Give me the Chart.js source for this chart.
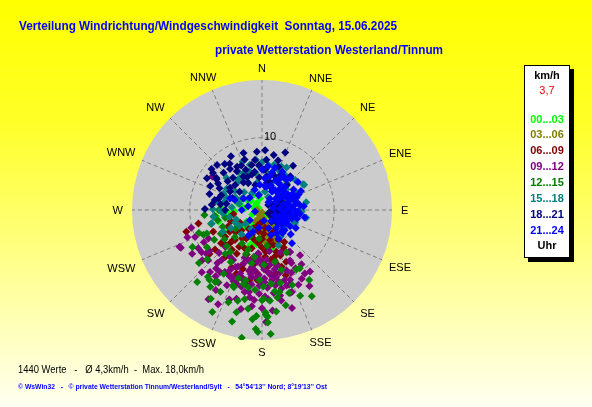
<!DOCTYPE html>
<html>
<head>
<meta charset="utf-8">
<script src="https://cdn.jsdelivr.net/npm/chart.js@4.4.1/dist/chart.umd.min.js"></script>
<style>
html, body { margin: 0; padding: 0; overflow: hidden; background: #ffffff; }
#wrap { width: 592px; height: 407px; }
</style>
</head>
<body>
<div id="wrap"><canvas id="canvasWind" width="592" height="407"></canvas></div>
<script>
"use strict";

// Wind readings per 3-hour block: [direction in degrees, speed in km/h]
var h00_03 = [[286,3.2],[260,5.0],[257,4.8],[282,1.0],[290,1.2],[170,5.0],[166,5.5],[233,2.7],[226,3.6],[207,4.2],[150,0.8],[275,2.4],[302,2.2],[322,1.2],[197,4.8],[225,3.0],[260,5.2],[174,3.7],[164,3.4],[262,6.4],[285,3.5],[189,4.8],[164,5.4],[200,2.0],[245,1.5],[215,2.2],[185,1.8],[240,4.0],[300,0.6],[176,2.6],[130,1.3],[268,3.8],[192,4.7],[205,3.2],
	[250,3.8],[265,4.6],[280,2.8],[295,3.3],[310,2.0],[330,2.4],[215,4.6],[230,4.4],[180,4.2],[160,4.2],[170,3.0],[255,6.2],[272,5.5],[240,5.6],[200,5.4],[140,2.4],[110,1.0],[350,1.6]];
var h03_06 = [[181,1.9],[172,3.0],[161,3.9],[158,4.8],[203,1.3],[171,1.2],[159,2.5],[168,3.3],[187,2.6],[225,0.7],[180,0.3],[270,0.7],[203,0.8],[175,2.2],[165,4.3],[155,4.1],[190,1.5],[162,3.5],[178,4.0],[150,3.0],[195,2.0],[170,1.7],[165,2.4],[185,3.2],[190,4.5],
	[163,4.5],[158,3.2],[152,4.4],[168,5.0],[175,3.6],[183,2.2],[178,1.0],[200,2.6],[210,1.8],[148,2.4],[160,1.8],[172,4.6]];
var h06_09 = [[254,10.9],[258,9.0],[230,9.5],[230,8.5],[224,6.4],[224,5.8],[217,6.9],[210,7.0],[202,9.5],[199,6.5],[188,7.5],[176,6.5],[171,5.6],[162,5.1],[165,6.7],[165,7.7],[161,8.3],[160,9.6],[172,9.1],[184,9.7],[222,5.6],[225,4.0],[209,4.5],[202,3.7],[186,4.6],[176,3.3],[165,4.3],[151,4.8],[244,5.2],[234,6.3],[231,7.3],[184,8.8],[166,7.2],[161,6.1],[155,7.9],[195,5.5],[180,5.2],[170,7.0],[190,3.0],[215,3.2],[240,3.5],[200,8.2],[155,6.5],[175,8.0],[195,2.2],[170,2.5],
	[185,6.2],[192,7.0],[198,8.6],[205,5.8],[212,6.0],[218,8.2],[228,7.0],[236,5.4],[246,7.4],[250,4.6],[262,4.0],[175,5.8],[168,5.0],[158,6.8],[150,6.0],[145,5.4],[178,7.4],[190,9.8],[208,9.0],[168,9.0],[180,4.0],[195,4.2],[205,2.8],[160,3.6],[150,3.4],[215,4.8],[230,4.8],[186,1.8]];
var h09_12 = [[246,12.5],[256,10.1],[248,10.0],[239,10.3],[235,10.2],[232,9.8],[232,9.2],[241,9.2],[227,10.2],[218,10.3],[224,12.0],[211,10.0],[211,14.4],[211,11.7],[204,10.2],[208,10.0],[199,10.8],[195,11.0],[193,10.4],[189,11.5],[188,10.4],[180,7.6],[187,8.4],[183,9.0],[182,6.9],[175,6.9],[172,7.7],[172,8.9],[168,9.5],[167,10.2],[166,11.2],[161,12.1],[162,10.2],[160,11.0],[144,9.3],[150,11.0],[150,9.3],[146,7.0],[151,8.0],[178,15.5],[185,12.5],[192,11.6],[178,9.5],[172,9.8],[219,8.9],[208,9.4],[203,8.5],[199,7.8],[195,7.2],[189,9.4],[168,12.1],[168,12.8],[205,8.7],[199,9.3],[245,12.4],[205,14.4],[146,10.6],[160,12.1],[147,6.9],[151,8.4],[304,8.3],[185,6.0],[178,8.2],[190,8.0],[170,5.8],[182,10.5],[196,12.8],[158,9.0],
	[175,8.6],[180,10.2],[185,9.4],[190,9.0],[195,10.0],[200,9.8],[205,11.5],[210,12.8],[215,11.2],[220,9.6],[225,8.4],[230,10.8],[238,11.4],[250,11.0],[242,8.4],[215,7.8],[225,7.2],[210,8.0],[200,7.0],[190,6.6],[176,10.8],[170,10.6],[164,9.0],[158,10.4],[154,11.5],[148,12.4],[142,10.8],[156,6.4],[165,8.0],[172,11.6],[178,12.0],[186,13.4],[192,14.0],[200,13.2],[180,13.6],[174,14.0],[163,14.2],[140,8.2],
	[185,7.2],[192,8.6],[178,10.0],[172,9.2],[168,8.4],[196,9.8],[202,10.6],[182,11.6],[176,12.4],[188,12.2],[206,10.2],[214,10.4],[220,11.2],[162,11.0],[155,9.6]];
var h12_15 = [[189,17.9],[183,16.5],[178,14.5],[177,14.8],[178,14.2],[177,15.6],[183,14.7],[194,14.6],[206,15.7],[195,13.0],[191,12.6],[180,12.5],[179,12.3],[175,12.6],[170,12.3],[166,13.6],[162,12.1],[146,11.7],[150,9.5],[166,10.4],[171,11.4],[185,11.1],[190,10.9],[194,10.6],[200,11.4],[201,11.2],[207,12.7],[214,12.8],[219,11.9],[212,11.7],[213,11.9],[217,12.1],[230,11.4],[211,10.3],[211,8.4],[220,7.9],[224,7.0],[199,10.0],[193,10.0],[182,9.7],[179,10.6],[173,10.3],[263,6.6],[247,8.8],[199,5.8],[211,5.4],[225,5.3],[217,7.3],[189,6.6],[191,7.5],[178,7.6],[166,7.4],[162,8.7],[147,9.6],[255,7.3],[250,9.3],[247,8.3],[257,6.3],[247,5.9],[205,4.0],[235,4.5],[186,4.0],[172,5.0],[200,6.5],
	[172,14.2],[185,15.2],[188,13.8],[195,16.0],[200,13.6],[210,14.2],[222,13.4],[228,10.2],[236,9.2],[242,10.9],[238,7.8],[232,6.6],[168,11.6],[158,11.2],[156,13.0],[150,13.8],[182,16.9],[176,17.2],[150,6.8],[265,8.0],[258,5.2],[270,6.0],[240,6.6]];
var h15_18 = [[59,6.8],[91,5.4],[48,6.2],[33,5.8],[22,6.0],[24,6.6],[8,6.3],[0,6.6],[357,6.0],[333,5.7],[325,5.4],[320,5.1],[332,4.5],[329,2.7],[349,3.8],[9,2.6],[19,3.9],[42,3.7],[43,5.0],[293,5.8],[301,5.7],[271,6.8],[283,5.3],[69,3.4],[68,4.2],[353,7.0],[262,6.8],[280,6.6],[270,5.8],[322,5.3],[333,4.2],[340,3.0],[300,3.2],[290,5.4],[342,5.6],[25,4.6],[58,6.7],[92,5.5],[111,4.8],[111,4.9],[155,5.4],[241,6.2],[255,7.2],[10,5.0],[350,5.2],[30,3.0],[315,3.5],[275,4.2],[250,3.8],[230,3.0],[240,5.0],
	[5,5.6],[15,6.5],[30,6.8],[38,5.3],[50,4.4],[62,5.2],[75,4.6],[80,6.2],[345,6.5],[338,7.2],[328,6.3],[312,6.6],[305,4.6],[295,4.0],[285,3.3],[265,5.4],[258,4.6],[245,4.1],[235,3.8],[220,4.4],[210,3.0],[310,2.5],[350,2.2],[25,2.0],[60,2.6],[130,4.0],[145,4.5],[100,6.2]];
var h18_21 = [[22,8.6],[12,7.8],[341,7.4],[321,8.2],[314,7.4],[322,7.2],[327,6.4],[307,8.5],[305,7.7],[301,7.1],[297,6.6],[287,7.6],[271,7.9],[282,6.7],[347,6.4],[349,5.4],[331,5.3],[333,4.2],[313,5.1],[309,4.0],[300,5.1],[280,5.0],[8,4.7],[21,6.4],[40,6.1],[32,4.4],[24,3.3],[2,5.6],[276,7.0],[309,9.0],[304,7.6],[52,1.1],[84,1.8],[94,2.7],[119,1.8],[112,3.2],[119,1.0],[63,2.6],[87,3.4],[141,2.1],[270,5.1],[4,5.6],[344,5.1],[75,2.2],[100,2.0],[130,2.8],[95,3.8],[60,1.6],[105,1.4],[80,2.9],[335,6.8],[15,4.0],[355,4.5],[290,6.0],
	[318,6.0],[325,7.8],[330,6.9],[338,6.0],[342,8.3],[352,7.0],[356,6.2],[5,7.0],[18,7.2],[28,5.5],[35,7.5],[310,6.2],[295,7.9],[285,6.2],[278,5.8],[300,8.8],[315,8.8],[336,5.0],[326,4.6],[345,3.6],[10,3.8],[20,5.0],[45,4.9],[55,3.4],[70,3.0],[90,2.4],[110,2.5],[125,1.6],[98,1.2],[65,3.9],[355,8.1],[3,8.3],[330,8.6],[305,5.4],[292,4.4]];
var h21_24 = [[33,3.3],[35,4.3],[58,3.5],[72,3.9],[87,4.1],[99,4.6],[115,3.8],[128,3.4],[125,2.5],[28,2.9],[35,1.9],[69,4.4],[76,4.9],[120,4.5],[138,4.0],[148,3.8],[138,6.2],[83,5.3],[67,5.5],[30,5.1],[39,5.4],[259,1.0],[285,2.0],[302,3.0],[347,2.1],[7,3.3],[13,4.8],[17,6.1],[8,6.1],[45,4.5],[57,5.2],[81,4.6],[92,5.0],[106,4.3],[102,3.3],[85,2.5],[111,1.9],[160,2.7],[160,3.7],[208,4.0],[202,3.3],[0,5.6],[290,4.7],[290,4.0],[138,4.3],[119,3.8],[66,3.9],[67,4.7],[83,4.0],[28,6.0],[34,5.5],[11,3.3],[50,2.5],[95,3.0],[110,2.6],[45,3.2],[75,3.0],[60,4.2],[100,4.0],[130,3.0],
	[40,3.8],[50,4.0],[55,3.0],[62,4.8],[70,5.1],[78,3.5],[88,3.6],[90,4.5],[96,5.3],[104,5.0],[108,3.6],[115,2.8],[122,3.4],[132,4.2],[142,3.2],[150,4.6],[130,5.2],[118,5.3],[20,3.6],[25,4.5],[42,5.9],[52,6.3],[64,6.0],[85,5.8],[100,6.0],[15,5.4],[5,4.4],[355,3.5],[340,3.0],[60,2.2],[80,1.6],[40,1.4],[140,2.0],[170,1.5],[190,2.5],[230,2.2],[270,2.8],[315,2.4]];

var hourLabels = ['00...03', '03...06', '06...09', '09...12', '12...15', '15...18', '18...21', '21...24'];
var hourSeries = [h00_03, h03_06, h06_09, h09_12, h12_15, h15_18, h18_21, h21_24];
var hourColors = ['#00ff00', '#808000', '#800000', '#800080', '#008000', '#008080', '#000080', '#0000ff'];

var compassLabels = ['N', 'NNE', 'NE', 'ENE', 'E', 'ESE', 'SE', 'SSE', 'S', 'SSW', 'SW', 'WSW', 'W', 'WNW', 'NW', 'NNW'];
var ringValues = [5, 10];
var ringLabels = ['', '10'];
var speedMax = 18.0;
var currentSpeed = '3,7';

var titleText = 'Verteilung Windrichtung/Windgeschwindigkeit  Sonntag, 15.06.2025';
var subtitleText = 'private Wetterstation Westerland/Tinnum';
var statsText = '1440 Werte   -   \u00d8 4,3km/h  -  Max. 18,0km/h';
var footerText = '\u00a9 WsWin32   -   \u00a9 private Wetterstation Tinnum/Westerland/Sylt   -   54\u00b054\'13\'\' Nord; 8\u00b019\'13\'\' Ost';

function $each(arr, fn) {
	for (var i = 0; i < arr.length; i++) fn(i, arr[i]);
}

// direction/speed -> east/north components for the linear scales
function ToVector(reading) {
	var rad = reading[0] * Math.PI / 180;
	return { x: reading[1] * Math.sin(rad), y: reading[1] * Math.cos(rad) };
}

// the original uses a narrow bitmap font, squeeze text to its width
function FillFitText(ctx, txt, x, y, width) {
	var w = ctx.measureText(txt).width;
	ctx.save();
	ctx.translate(x, y);
	ctx.scale(width / w, 1);
	ctx.fillText(txt, 0, 0);
	ctx.restore();
}

var datasets = [];
$each(hourSeries, function (index, series) {
	datasets.push({
		label: hourLabels[index],
		data: series.map(ToVector),
		pointStyle: 'rectRot',
		pointRadius: 4,
		pointHoverRadius: 4,
		borderWidth: 0,
		backgroundColor: hourColors[index],
		borderColor: hourColors[index],
		order: hourSeries.length - index
	});
});

var windRosePlugin = {
	id: 'windRose',
	beforeDraw: function (chart) {
		var ctx = chart.ctx;
		var xs = chart.scales.x, ys = chart.scales.y;
		var cx = xs.getPixelForValue(0), cy = ys.getPixelForValue(0);
		var R = xs.getPixelForValue(speedMax) - cx;

		ctx.save();
		var grad = ctx.createLinearGradient(0, 0, 0, chart.height);
		grad.addColorStop(0, '#ffff00');
		grad.addColorStop(0.3, '#ffff28');
		grad.addColorStop(1, '#fffff2');
		ctx.fillStyle = grad;
		ctx.fillRect(0, 0, chart.width, chart.height);

		// disc
		ctx.beginPath();
		ctx.arc(cx, cy, R, 0, Math.PI * 2);
		ctx.fillStyle = '#cccccc';
		ctx.fill();

		// rings + spokes
		ctx.strokeStyle = '#7f7f7f';
		ctx.lineWidth = 1;
		ctx.setLineDash([4, 3]);
		$each(ringValues, function (i, v) {
			var r = xs.getPixelForValue(v) - cx;
			ctx.beginPath();
			ctx.arc(cx, cy, r, 0, Math.PI * 2);
			ctx.stroke();
		});
		var r0 = xs.getPixelForValue(ringValues[0]) - cx;
		$each(compassLabels, function (i) {
			var a = i * 22.5 * Math.PI / 180;
			ctx.beginPath();
			ctx.moveTo(cx + r0 * Math.sin(a), cy - r0 * Math.cos(a));
			ctx.lineTo(cx + R * Math.sin(a), cy - R * Math.cos(a));
			ctx.stroke();
		});
		ctx.setLineDash([]);

		// compass labels
		ctx.fillStyle = '#000000';
		ctx.font = '11px "Liberation Sans", Arial, sans-serif';
		ctx.textAlign = 'center';
		ctx.textBaseline = 'middle';
		$each(compassLabels, function (i, txt) {
			var a = i * 22.5 * Math.PI / 180;
			var rl = R + 12 + Math.abs(Math.sin(a)) * (ctx.measureText(txt).width / 2 - 3);
			var c = Math.abs(Math.cos(a));
			var dx = c > 0.5 && c < 0.95 ? 3 * Math.sign(Math.sin(a)) : 0;
			var dy = c > 0.9 && c < 0.95 ? -2 * Math.sign(Math.cos(a)) : 0;
			ctx.fillText(txt, cx + rl * Math.sin(a) + dx, cy - rl * Math.cos(a) + 1 - dy);
		});
		ctx.textAlign = 'left';
		$each(ringValues, function (i, v) {
			if (!ringLabels[i]) return;
			var r = xs.getPixelForValue(v) - cx;
			ctx.fillText(ringLabels[i], cx + 2, cy - r - 1);
		});

		// title
		ctx.fillStyle = '#0000ff';
		ctx.font = 'bold 13px "Liberation Sans", Arial, sans-serif';
		ctx.textBaseline = 'alphabetic';
		FillFitText(ctx, titleText, 19, 30, 378);
		FillFitText(ctx, subtitleText, 215, 54, 228);

		// bottom texts
		ctx.fillStyle = '#000000';
		ctx.font = '11px "Liberation Sans", Arial, sans-serif';
		FillFitText(ctx, statsText, 18, 373, 186);
		ctx.fillStyle = '#0000ff';
		ctx.font = 'bold 8px "Liberation Sans", Arial, sans-serif';
		FillFitText(ctx, footerText, 18, 389, 309);

		// legend box
		var bx = 524, by = 65, bw = 46, bh = 193;
		ctx.fillStyle = '#000000';
		ctx.fillRect(bx + 4, by + 4, bw, bh);
		ctx.fillStyle = '#ffffff';
		ctx.fillRect(bx, by, bw, bh);
		ctx.strokeStyle = '#000000';
		ctx.strokeRect(bx + 0.5, by + 0.5, bw - 1, bh - 1);

		ctx.textAlign = 'center';
		ctx.textBaseline = 'middle';
		var lx = bx + bw / 2;
		ctx.font = 'bold 11px "Liberation Sans", Arial, sans-serif';
		ctx.fillStyle = '#000000';
		ctx.fillText('km/h', lx, 76);
		ctx.font = '11px "Liberation Sans", Arial, sans-serif';
		ctx.fillStyle = '#ff0000';
		ctx.fillText(currentSpeed, lx, 91);
		ctx.font = 'bold 11px "Liberation Sans", Arial, sans-serif';
		$each(hourLabels, function (i, txt) {
			ctx.fillStyle = hourColors[i];
			ctx.fillText(txt, lx, 119.5 + i * 15.9);
		});
		ctx.fillStyle = '#000000';
		ctx.fillText('Uhr', lx, 246);
		ctx.restore();
	}
};

const context = document.getElementById('canvasWind');
const windChart = new Chart(context, {
	type: 'scatter',
	data: { datasets: datasets },
	options: {
		responsive: false,
		animation: false,
		events: [],
		layout: { padding: { left: 132, top: 80, right: 200, bottom: 67 } },
		plugins: { legend: { display: false }, tooltip: { enabled: false } },
		scales: {
			x: { display: false, min: -speedMax, max: speedMax },
			y: { display: false, min: -speedMax, max: speedMax }
		}
	},
	plugins: [windRosePlugin]
});
</script>
</body>
</html>
